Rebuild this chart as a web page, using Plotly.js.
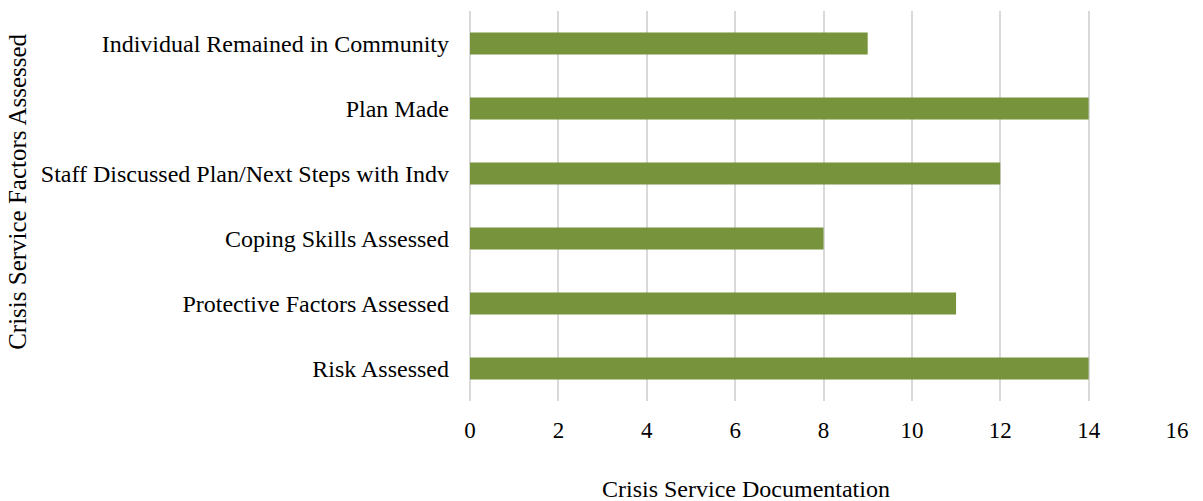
<!DOCTYPE html>
<html>
<head>
<meta charset="utf-8">
<script src="https://cdn.plot.ly/plotly-3.0.1.min.js"></script>
<style>html,body{margin:0;padding:0;background:#fff;}#chart{width:1203px;height:501px;}</style>
</head>
<body>
<div id="chart"></div>
<script>
const categories = [
  "Risk Assessed",
  "Protective Factors Assessed",
  "Coping Skills Assessed",
  "Staff Discussed Plan/Next Steps with Indv",
  "Plan Made",
  "Individual Remained in Community"
];
const values = [14, 11, 8, 12, 14, 9];
const xTicks = [0, 2, 4, 6, 8, 10, 12, 14, 16];
const xTitle = "Crisis Service Documentation";
const yTitle = "Crisis Service Factors Assessed";

const font = "Liberation Serif, Times New Roman, serif";

Plotly.newPlot("chart", [{
  type: "bar",
  orientation: "h",
  x: values,
  y: categories,
  marker: {color: "#77933C"},
  hoverinfo: "x+y"
}], {
  width: 1203,
  height: 501,
  margin: {l: 470, r: 26, t: 11, b: 100},
  paper_bgcolor: "#fff",
  plot_bgcolor: "#fff",
  bargap: 0.66,
  showlegend: false,
  font: {family: font, size: 24, color: "#000"},
  xaxis: {
    range: [0, 16],
    tickvals: xTicks,
    ticktext: xTicks.map(String),
    showgrid: true,
    gridcolor: "#d9d9d9",
    gridwidth: 1.5,
    zeroline: true,
    zerolinecolor: "#d9d9d9",
    zerolinewidth: 1.5,
    showline: false,
    ticks: "",
    ticklabelstandoff: 13,
    tickfont: {family: font, size: 23, color: "#000"},
    automargin: false,
    fixedrange: true
  },
  yaxis: {
    type: "category",
    categoryorder: "array",
    categoryarray: categories,
    showgrid: false,
    zeroline: false,
    showline: false,
    ticks: "",
    ticklabelstandoff: 20,
    tickfont: {family: font, size: 24, color: "#000"},
    automargin: false,
    fixedrange: true
  },
  annotations: [
    {text: xTitle, xref: "paper", yref: "paper", x: 0.39, y: -0.225, xanchor: "center", yanchor: "middle", showarrow: false, font: {family: font, size: 24, color: "#000"}},
    {text: yTitle, xref: "paper", yref: "paper", x: -0.64, y: 0.535, xanchor: "center", yanchor: "middle", textangle: -90, showarrow: false, font: {family: font, size: 25, color: "#000"}}
  ]
}, {displayModeBar: false});
</script>
</body>
</html>
